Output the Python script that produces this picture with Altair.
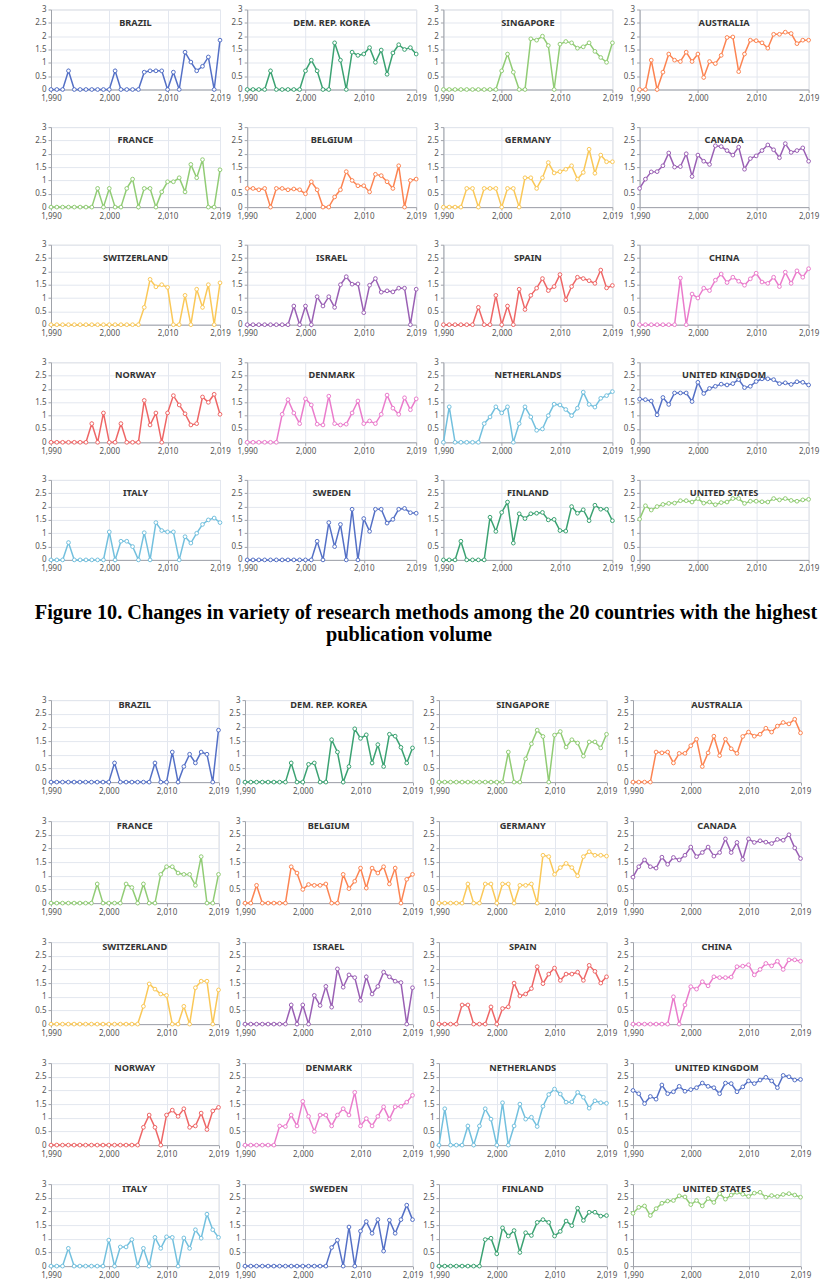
import altair as alt
import pandas as pd

YEARS = list(range(1990, 2020))

COUNTRIES = [
    "BRAZIL", "DEM. REP. KOREA", "SINGAPORE", "AUSTRALIA",
    "FRANCE", "BELGIUM", "GERMANY", "CANADA",
    "SWITZERLAND", "ISRAEL", "SPAIN", "CHINA",
    "NORWAY", "DENMARK", "NETHERLANDS", "UNITED KINGDOM",
    "ITALY", "SWEDEN", "FINLAND", "UNITED STATES",
]

COLORS = [
    "#5470c6", "#3ba272", "#91cc75", "#fc8452",
    "#91cc75", "#fc8452", "#fac858", "#9a60b4",
    "#fac858", "#9a60b4", "#ee6666", "#ea7ccc",
    "#ee6666", "#ea7ccc", "#73c0de", "#5470c6",
    "#73c0de", "#5470c6", "#3ba272", "#91cc75",
]

CAPTION_1 = "Figure 10. Changes in variety of research methods among the 20 countries with the highest"
CAPTION_2 = "publication volume"

# ---- Figure 10: variety of research methods, 1990-2019 ----
A_BRAZIL = [0, 0, 0, 0.7, 0, 0, 0, 0, 0, 0, 0, 0.7, 0, 0, 0, 0, 0.65, 0.7, 0.7, 0.7,
            0, 0.65, 0, 1.4, 1.03, 0.7, 0.87, 1.22, 0, 1.85]
A_KOREA = [0, 0, 0, 0, 0.7, 0, 0, 0, 0, 0, 0.7, 1.1, 0.7, 0, 0, 1.75, 1.1, 0, 1.4, 1.28,
           1.33, 1.57, 1.02, 1.48, 0.57, 1.37, 1.68, 1.5, 1.57, 1.33]
A_SINGAPORE = [0, 0, 0, 0, 0, 0, 0, 0, 0, 0, 0.7, 1.33, 0.65, 0, 0, 1.9, 1.85, 2.0, 1.65, 0,
               1.7, 1.8, 1.75, 1.55, 1.6, 1.75, 1.43, 1.2, 1.02, 1.75]
A_AUSTRALIA = [0, 0, 1.1, 0, 0.65, 1.33, 1.1, 1.05, 1.4, 1.05, 1.33, 0.45, 1.05, 0.97, 1.28,
               1.95, 1.97, 0.67, 1.33, 1.85, 1.83, 1.75, 1.55, 2.07, 2.07, 2.15, 2.1, 1.72,
               1.85, 1.85]
A_FRANCE = [0, 0, 0, 0, 0, 0, 0, 0, 0.7, 0, 0.7, 0, 0, 0.7, 1.05, 0, 0.7, 0.7, 0, 0.57,
            0.95, 0.95, 1.1, 0.57, 1.6, 1.1, 1.78, 0, 0, 1.4]
A_BELGIUM = [0.7, 0.7, 0.65, 0.7, 0, 0.7, 0.7, 0.65, 0.68, 0.65, 0.5, 0.95, 0.65, 0, 0, 0.38,
             0.65, 1.33, 1.0, 0.8, 0.8, 0.57, 1.23, 1.18, 0.95, 0.7, 1.55, 0, 1.0, 1.05]
A_GERMANY = [0, 0, 0, 0, 0.7, 0.7, 0, 0.7, 0.7, 0.7, 0, 0.7, 0.7, 0, 1.1, 1.1, 0.7, 1.1,
             1.67, 1.28, 1.33, 1.42, 1.55, 1.05, 1.3, 2.17, 1.27, 1.95, 1.7, 1.7]
A_CANADA = [0.7, 1.05, 1.32, 1.33, 1.55, 2.03, 1.5, 1.52, 2.0, 1.15, 1.95, 1.72, 1.6, 2.3,
            2.27, 2.12, 1.95, 2.25, 1.42, 1.82, 1.92, 2.12, 2.33, 2.15, 1.85, 2.38, 2.05,
            2.12, 2.22, 1.72]
A_SWITZERLAND = [0, 0, 0, 0, 0, 0, 0, 0, 0, 0, 0, 0, 0, 0, 0, 0, 0.65, 1.7, 1.42, 1.5, 1.4,
                 0, 0, 1.1, 0, 1.33, 0.65, 1.5, 0, 1.57]
A_ISRAEL = [0, 0, 0, 0, 0, 0, 0, 0, 0.7, 0, 0.7, 0, 1.05, 0.7, 1.05, 0.65, 1.5, 1.8, 1.52,
            1.53, 0.45, 1.48, 1.73, 1.22, 1.27, 1.23, 1.37, 1.37, 0, 1.33]
A_SPAIN = [0, 0, 0, 0, 0, 0, 0.65, 0, 0, 1.1, 0, 0.7, 0, 1.33, 0.57, 1.1, 1.37, 1.73, 1.28,
           1.43, 1.88, 0.93, 1.43, 1.78, 1.73, 1.65, 1.55, 2.05, 1.38, 1.47]
A_CHINA = [0, 0, 0, 0, 0, 0, 0, 1.75, 0, 1.15, 1.0, 1.37, 1.28, 1.67, 1.9, 1.58, 1.78, 1.63,
           1.48, 1.72, 1.93, 1.6, 1.55, 1.78, 1.43, 1.97, 1.55, 2.02, 1.78, 2.1]
A_NORWAY = [0, 0, 0, 0, 0, 0, 0, 0.7, 0, 1.1, 0, 0, 0.7, 0, 0, 0, 1.57, 0.65, 1.1, 0, 1.1,
            1.75, 1.4, 1.07, 0.65, 0.7, 1.7, 1.5, 1.8, 1.05]
A_DENMARK = [0, 0, 0, 0, 0, 0, 1.05, 1.6, 1.1, 0.7, 1.63, 1.4, 0.68, 0.65, 1.73, 0.7, 0.65,
             0.68, 1.1, 1.55, 0.7, 0.8, 0.7, 1.05, 1.77, 1.28, 1.05, 1.67, 1.22, 1.63]
A_NETHERLANDS = [0, 1.33, 0, 0, 0, 0, 0, 0.7, 0.95, 1.33, 1.1, 1.33, 0, 0.7, 1.33, 0.95, 0.45,
                 0.5, 1.0, 1.43, 1.4, 1.23, 1.0, 1.28, 1.88, 1.42, 1.32, 1.65, 1.75, 1.9]
A_UK = [1.62, 1.6, 1.55, 1.03, 1.68, 1.42, 1.85, 1.85, 1.85, 1.53, 2.25, 1.83, 2.02, 2.1, 2.18,
        2.15, 2.2, 2.35, 2.05, 2.1, 2.28, 2.38, 2.38, 2.35, 2.2, 2.23, 2.17, 2.27, 2.25, 2.15]
A_ITALY = [0, 0, 0, 0.65, 0, 0, 0, 0, 0, 0, 1.05, 0, 0.7, 0.7, 0.5, 0, 1.02, 0, 1.4, 1.1,
           1.05, 1.05, 0, 0.87, 0.63, 1.0, 1.33, 1.5, 1.57, 1.4]
A_SWEDEN = [0, 0, 0, 0, 0, 0, 0, 0, 0, 0, 0, 0, 0.7, 0, 1.4, 0.5, 1.33, 0, 1.9, 0, 1.55,
            1.07, 1.9, 1.9, 1.38, 1.52, 1.9, 1.93, 1.77, 1.75]
A_FINLAND = [0, 0, 0, 0.7, 0, 0, 0, 0, 1.6, 1.07, 1.78, 2.17, 0.63, 1.73, 1.55, 1.73, 1.75,
             1.78, 1.5, 1.52, 1.1, 1.08, 2.0, 1.75, 1.88, 1.47, 2.05, 1.9, 1.9, 1.47]
A_US = [1.53, 2.03, 1.87, 2.0, 2.08, 2.12, 2.13, 2.22, 2.22, 2.17, 2.3, 2.13, 2.17, 2.07, 2.15,
        2.17, 2.3, 2.3, 2.12, 2.2, 2.2, 2.18, 2.17, 2.3, 2.25, 2.3, 2.23, 2.2, 2.25, 2.27]

# ---- second grid, same countries ----
B_BRAZIL = [0, 0, 0, 0, 0, 0, 0, 0, 0, 0, 0, 0.7, 0, 0, 0, 0, 0, 0, 0.7, 0, 0, 1.1, 0, 0.57,
            1.02, 0.7, 1.1, 1.02, 0, 1.9]
B_KOREA = [0, 0, 0, 0, 0, 0, 0, 0, 0.7, 0, 0, 0.65, 0.7, 0, 0, 1.55, 1.1, 0, 0.57, 1.95, 1.6,
           1.73, 0.7, 1.37, 0.57, 1.75, 1.68, 1.27, 0.7, 1.25]
B_SINGAPORE = [0, 0, 0, 0, 0, 0, 0, 0, 0, 0, 0, 0, 1.1, 0, 0, 0.85, 1.4, 1.9, 1.67, 0, 1.72,
               1.85, 1.28, 1.55, 1.43, 0.95, 1.47, 1.47, 1.25, 1.75]
B_AUSTRALIA = [0, 0, 0, 0, 1.1, 1.07, 1.1, 0.7, 1.05, 1.05, 1.33, 1.57, 0.57, 1.07, 1.68, 0.97,
               1.57, 1.22, 1.05, 1.67, 1.83, 1.68, 1.75, 1.97, 1.83, 2.05, 2.18, 2.13, 2.3, 1.8]
B_FRANCE = [0, 0, 0, 0, 0, 0, 0, 0, 0.7, 0, 0, 0, 0, 0.7, 0.57, 0, 0.7, 0, 0, 1.05, 1.33, 1.33,
            1.1, 1.05, 1.05, 0.65, 1.7, 0, 0, 1.05]
B_BELGIUM = [0, 0, 0.65, 0, 0, 0, 0, 0, 1.33, 1.1, 0.5, 0.68, 0.65, 0.65, 0.7, 0, 0, 1.05, 0.53,
             0.8, 1.28, 0.55, 1.28, 1.1, 1.33, 0.7, 1.28, 0, 0.87, 1.05]
B_GERMANY = [0, 0, 0, 0, 0, 0.7, 0, 0, 0.7, 0.7, 0, 0.7, 0.7, 0, 0.65, 0.65, 0.7, 0, 1.75, 1.7,
             1.05, 1.3, 1.45, 1.3, 1.0, 1.7, 1.88, 1.75, 1.75, 1.72]
B_CANADA = [0.95, 1.33, 1.58, 1.33, 1.28, 1.68, 1.42, 1.67, 1.58, 1.75, 2.05, 1.7, 1.85, 2.05,
            1.72, 1.85, 2.35, 1.85, 2.22, 1.6, 2.35, 2.22, 2.28, 2.23, 2.18, 2.33, 2.3, 2.5,
            2.02, 1.63]
B_SWITZERLAND = [0, 0, 0, 0, 0, 0, 0, 0, 0, 0, 0, 0, 0, 0, 0, 0, 0.65, 1.47, 1.28, 1.1, 1.05,
                 0, 0, 0.65, 0, 1.33, 1.57, 1.57, 0, 1.25]
B_ISRAEL = [0, 0, 0, 0, 0, 0, 0, 0, 0.7, 0, 0.7, 0, 1.05, 0.68, 1.38, 0.62, 2.02, 1.35, 1.8,
            1.7, 0.87, 1.73, 1.1, 1.38, 1.9, 1.73, 1.57, 1.52, 0, 1.33]
B_SPAIN = [0, 0, 0, 0, 0.7, 0.7, 0, 0, 0, 0.63, 0, 0.57, 0.63, 1.5, 1.03, 1.1, 1.3, 2.1, 1.48,
           1.83, 2.05, 1.6, 1.83, 1.83, 1.9, 1.6, 2.15, 1.93, 1.5, 1.73]
B_CHINA = [0, 0, 0, 0, 0, 0, 0, 1.0, 0, 0.7, 1.37, 1.28, 1.55, 1.4, 1.73, 1.7, 1.7, 1.72, 2.1,
           2.12, 2.17, 1.8, 2.0, 2.22, 2.13, 2.3, 2.0, 2.35, 2.35, 2.3]
B_NORWAY = [0, 0, 0, 0, 0, 0, 0, 0, 0, 0, 0, 0, 0, 0, 0, 0, 0.65, 1.1, 0.65, 0, 1.1, 1.28,
            1.05, 1.33, 0.65, 0.7, 1.17, 0.57, 1.25, 1.38]
B_DENMARK = [0, 0, 0, 0, 0, 0, 0.7, 0.68, 1.1, 0.7, 1.6, 1.05, 0.5, 1.1, 1.1, 0.7, 1.1, 1.33,
             1.1, 1.93, 0.7, 0.97, 0.7, 1.05, 1.4, 0.95, 1.4, 1.42, 1.57, 1.82]
B_NETHERLANDS = [0, 1.33, 0, 0, 0, 0.7, 0, 0.7, 1.33, 0.95, 0, 1.55, 0, 0.7, 1.5, 0.95, 1.02,
                 0.68, 1.42, 1.85, 2.05, 1.87, 1.57, 1.58, 1.93, 1.75, 1.35, 1.62, 1.55, 1.53]
B_UK = [2.0, 1.88, 1.52, 1.78, 1.68, 2.2, 1.88, 1.95, 2.15, 1.97, 2.03, 2.1, 2.27, 2.15, 2.1,
        1.88, 2.27, 2.25, 1.95, 2.13, 2.35, 2.25, 2.38, 2.48, 2.35, 2.1, 2.55, 2.5, 2.38, 2.4]
B_ITALY = [0, 0, 0, 0.65, 0, 0, 0, 0, 0, 0, 0.95, 0, 0.7, 0.7, 0.97, 0, 0.65, 0, 1.05, 0.65,
           1.07, 1.05, 0, 1.03, 0.65, 1.33, 1.02, 1.9, 1.33, 1.05]
B_SWEDEN = [0, 0, 0, 0, 0, 0, 0, 0, 0, 0, 0, 0, 0, 0, 0, 0.68, 0.95, 0, 1.43, 0, 1.28, 1.63,
            1.2, 1.7, 0.55, 1.68, 1.2, 1.7, 2.23, 1.7]
B_FINLAND = [0, 0, 0, 0, 0, 0, 0, 0, 0.97, 1.02, 0.45, 1.4, 1.1, 1.3, 0.5, 1.22, 1.12, 1.6, 1.7,
             1.6, 1.1, 1.27, 1.65, 1.48, 2.12, 1.67, 1.97, 1.97, 1.83, 1.85]
B_US = [1.93, 2.15, 2.2, 1.85, 2.1, 2.3, 2.38, 2.4, 2.57, 2.53, 2.25, 2.4, 2.2, 2.47, 2.33, 2.65,
        2.45, 2.6, 2.7, 2.63, 2.55, 2.67, 2.7, 2.52, 2.58, 2.55, 2.62, 2.65, 2.6, 2.52]

SERIES_A = [A_BRAZIL, A_KOREA, A_SINGAPORE, A_AUSTRALIA, A_FRANCE, A_BELGIUM, A_GERMANY,
            A_CANADA, A_SWITZERLAND, A_ISRAEL, A_SPAIN, A_CHINA, A_NORWAY, A_DENMARK,
            A_NETHERLANDS, A_UK, A_ITALY, A_SWEDEN, A_FINLAND, A_US]
SERIES_B = [B_BRAZIL, B_KOREA, B_SINGAPORE, B_AUSTRALIA, B_FRANCE, B_BELGIUM, B_GERMANY,
            B_CANADA, B_SWITZERLAND, B_ISRAEL, B_SPAIN, B_CHINA, B_NORWAY, B_DENMARK,
            B_NETHERLANDS, B_UK, B_ITALY, B_SWEDEN, B_FINLAND, B_US]

FONT = "Noto Sans"
GRID = "#E3E7EF"
AXIS = "#A0A3AA"


def caption_line(text, px, py):
    return alt.Chart(pd.DataFrame({"t": [text]})).mark_text(
        font="Liberation Serif", fontWeight="bold", fontSize=20.3, color="#000000",
        baseline="middle"
    ).encode(text="t:N", x=alt.value(px), y=alt.value(py))


def panel(name, values, color, w, h, title_y, extra=()):
    df = pd.DataFrame({"year": YEARS, "value": values})
    x = alt.X(
        "year:Q",
        scale=alt.Scale(domain=[1990, 2019], nice=False, zero=False),
        axis=alt.Axis(values=[1990, 2000, 2010, 2019], format=",d", title=None,
                      grid=True, gridColor=GRID, labelFontSize=8, labelColor="#555",
                      labelFont=FONT, domainColor=AXIS, tickColor=AXIS, tickSize=3,
                      labelPadding=2, labelFlush=False, labelOverlap=False),
    )
    y = alt.Y(
        "value:Q",
        scale=alt.Scale(domain=[0, 3], nice=False),
        axis=alt.Axis(values=[0, 0.5, 1, 1.5, 2, 2.5, 3], format="~g", title=None,
                      grid=True, gridColor=GRID, labelFontSize=8, labelColor="#555",
                      labelFont=FONT, domainColor=AXIS, tickColor=AXIS, tickSize=3,
                      labelPadding=2, labelOverlap=False),
    )
    base = alt.Chart(df)
    line = base.mark_line(color=color, strokeWidth=1.5).encode(x=x, y=y)
    pts = base.mark_point(shape="circle", filled=True, fill="white", stroke=color,
                          strokeWidth=1, size=14, opacity=1).encode(x=x, y=y)
    label = alt.Chart(pd.DataFrame({"name": [name]})).mark_text(
        font=FONT, fontWeight="bold", fontSize=9.2, color="#333333"
    ).encode(text="name:N", x=alt.value(w / 2), y=alt.value(title_y))
    return alt.layer(line, pts, label, *extra).properties(width=w, height=h)


def grid(series, w, h, title_y, hspace, vspace, caption=False):
    cells = []
    for i in range(20):
        extra = ()
        if caption and i == 16:
            # figure caption hangs below the first panel of the last row
            extra = (caption_line(CAPTION_1, 375, 132.6), caption_line(CAPTION_2, 358, 155.3))
        cells.append(panel(COUNTRIES[i], series[i], COLORS[i], w, h, title_y, extra))
    return alt.concat(*cells, columns=4, bounds="flush",
                      spacing=alt.RowColnumber(row=vspace, column=hspace))


top = grid(SERIES_A, 169, 80, 13, 27.2, 37.6, caption=True)
bottom = grid(SERIES_B, 167.5, 82, 5, 26, 39)

chart = alt.vconcat(top, bottom, spacing=48.6).properties(
    padding={"left": 34, "top": 4.5, "right": 0, "bottom": 0}
).configure_view(stroke="transparent").configure(background="white")

chart.save("out.html", embed_options={"renderer": "svg", "actions": False})
